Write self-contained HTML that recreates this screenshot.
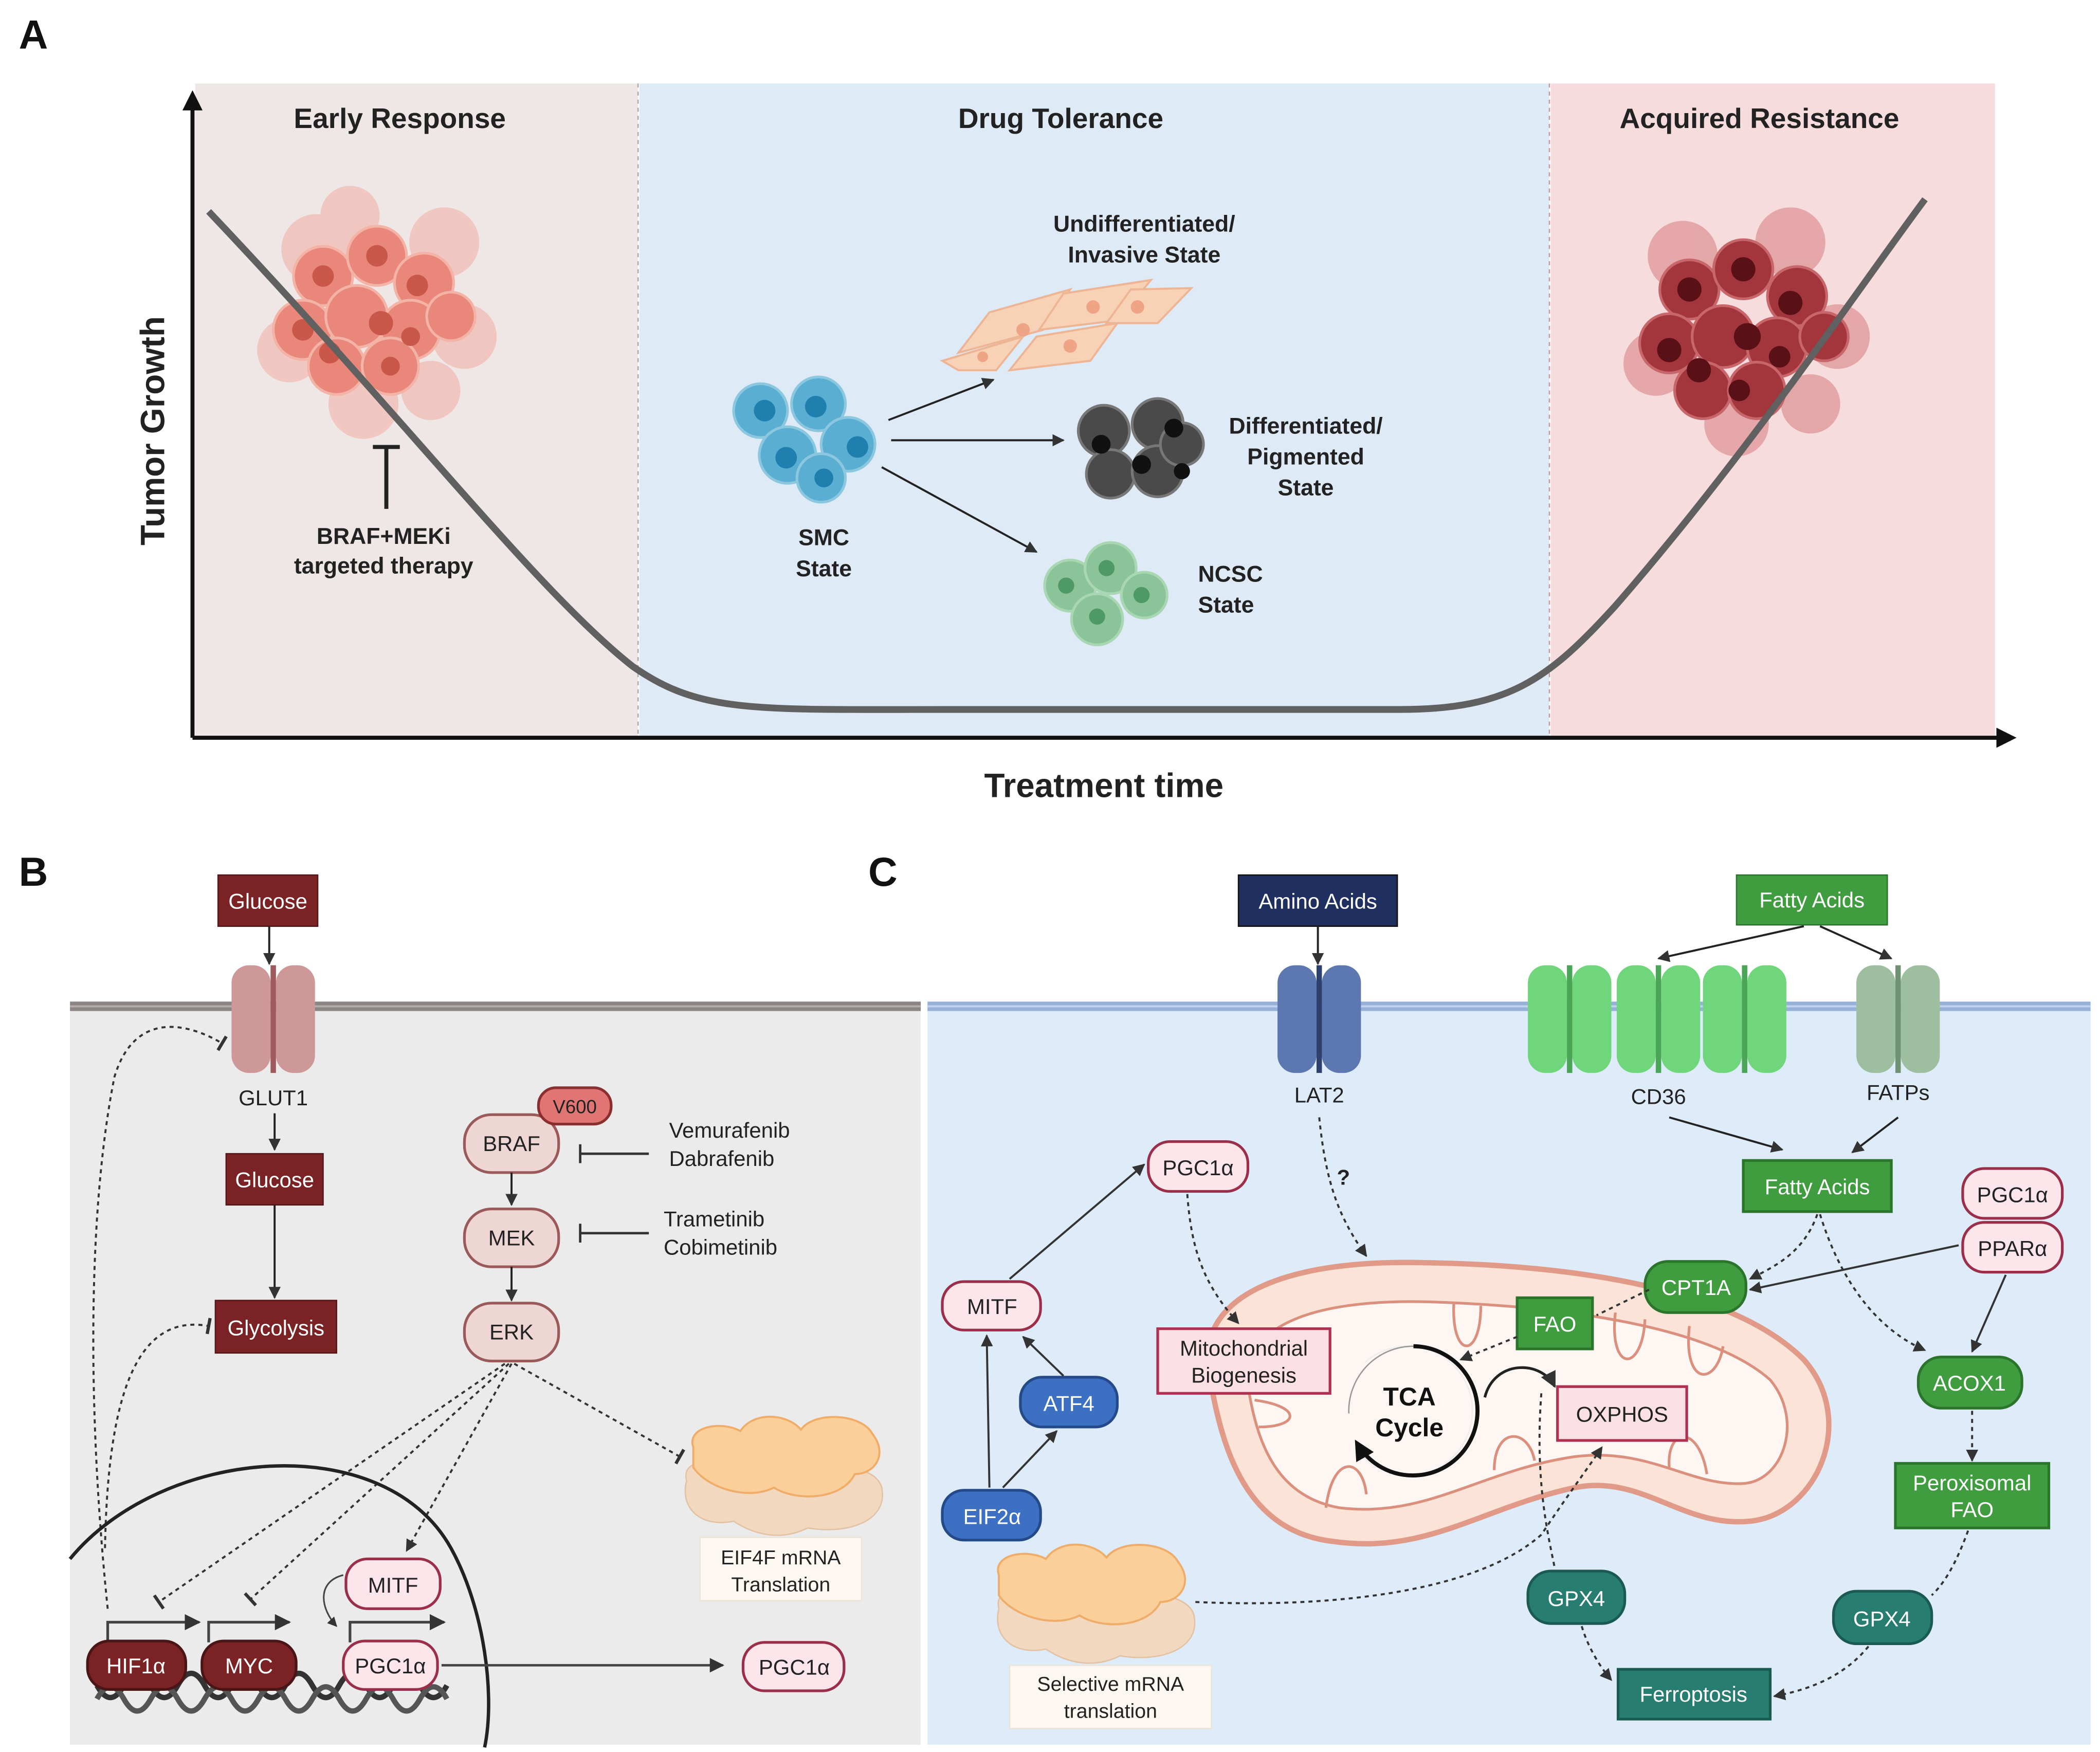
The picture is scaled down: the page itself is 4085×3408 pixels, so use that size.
<!DOCTYPE html>
<html><head><meta charset="utf-8"><style>
html,body{margin:0;padding:0;background:#fff}
svg{display:block}
text{font-family:"Liberation Sans",sans-serif}
</style></head><body>
<svg width="4085" height="3408" viewBox="0 0 1560 1301.4" xmlns="http://www.w3.org/2000/svg">
<defs>
<marker id="ah" viewBox="0 0 10 10" refX="9" refY="5" markerWidth="7" markerHeight="7" orient="auto-start-reverse"><path d="M0,0L10,5L0,10z" fill="#222"/></marker>
<marker id="ahb" viewBox="0 0 10 10" refX="9" refY="5" markerWidth="6" markerHeight="6" orient="auto"><path d="M0,0L10,5L0,10z" fill="#333"/></marker>
<marker id="bar" viewBox="0 0 10 10" refX="5" refY="5" markerWidth="8" markerHeight="8" orient="auto"><path d="M5,0L5,10" stroke="#333" stroke-width="2"/></marker>
<marker id="bigA" viewBox="0 0 10 10" refX="8" refY="5" markerWidth="5" markerHeight="5" orient="auto"><path d="M0,0L10,5L0,10z" fill="#111"/></marker>
<g id="chan"><rect x="-31" y="0" width="29" height="80" rx="13"/><rect x="2" y="0" width="29" height="80" rx="13"/></g>
<g id="cell"><circle r="22"/></g>
</defs>

<!-- PANEL A -->
<text x="14" y="36" font-size="30" font-weight="bold" fill="#111">A</text>
<rect x="145" y="62" width="329" height="485" fill="#efe7e5"/>
<rect x="475" y="62" width="676" height="485" fill="#deeaf6"/>
<rect x="1152" y="62" width="330" height="485" fill="#f6dcdc"/>
<line x1="474" y1="62" x2="474" y2="547" stroke="#aaa" stroke-dasharray="3,3"/>
<line x1="1151" y1="62" x2="1151" y2="547" stroke="#c99" stroke-dasharray="3,3"/>
<line x1="143" y1="548" x2="143" y2="70" stroke="#111" stroke-width="3" marker-end="url(#bigA)"/>
<line x1="143" y1="548" x2="1495" y2="548" stroke="#111" stroke-width="3" marker-end="url(#bigA)"/>
<text x="297" y="95" font-size="21" font-weight="bold" text-anchor="middle" fill="#222">Early Response</text>
<text x="788" y="95" font-size="21" font-weight="bold" text-anchor="middle" fill="#222">Drug Tolerance</text>
<text x="1307" y="95" font-size="21" font-weight="bold" text-anchor="middle" fill="#222">Acquired Resistance</text>
<text x="0" y="0" font-size="25" font-weight="bold" text-anchor="middle" fill="#222" transform="translate(122,320) rotate(-90)">Tumor Growth</text>
<text x="820" y="592" font-size="25" font-weight="bold" text-anchor="middle" fill="#222">Treatment time</text>

<!-- early tumor -->
<g fill="#f1b3a8" opacity="0.6">
<circle cx="235" cy="185" r="26"/><circle cx="330" cy="180" r="26"/><circle cx="345" cy="250" r="24"/><circle cx="215" cy="260" r="24"/><circle cx="270" cy="300" r="26"/><circle cx="260" cy="160" r="22"/><circle cx="320" cy="290" r="22"/>
</g>
<g fill="#e9887a" stroke="#f3b3a6" stroke-width="2">
<circle cx="240" cy="205" r="22"/><circle cx="280" cy="190" r="22"/><circle cx="315" cy="210" r="22"/><circle cx="225" cy="245" r="22"/><circle cx="265" cy="235" r="23"/><circle cx="305" cy="245" r="22"/><circle cx="335" cy="235" r="18"/><circle cx="250" cy="272" r="21"/><circle cx="290" cy="272" r="21"/>
</g>
<g fill="#c9584a"><circle cx="240" cy="205" r="8"/><circle cx="280" cy="190" r="8"/><circle cx="310" cy="212" r="8"/><circle cx="225" cy="245" r="8"/><circle cx="283" cy="240" r="9"/><circle cx="305" cy="250" r="7"/><circle cx="245" cy="262" r="8"/><circle cx="290" cy="272" r="7"/></g>
<line x1="287" y1="332" x2="287" y2="378" stroke="#222" stroke-width="3"/>
<line x1="277" y1="332" x2="297" y2="332" stroke="#222" stroke-width="3"/>
<text x="285" y="404" font-size="17" font-weight="bold" text-anchor="middle" fill="#222">BRAF+MEKi</text>
<text x="285" y="426" font-size="17" font-weight="bold" text-anchor="middle" fill="#222">targeted therapy</text>

<!-- resistant tumor -->
<g fill="#d77c7f" opacity="0.55">
<circle cx="1250" cy="190" r="26"/><circle cx="1330" cy="180" r="26"/><circle cx="1365" cy="250" r="24"/><circle cx="1230" cy="270" r="24"/><circle cx="1290" cy="315" r="24"/><circle cx="1345" cy="300" r="22"/>
</g>
<g fill="#a3363d" stroke="#c7666b" stroke-width="2">
<circle cx="1255" cy="215" r="22"/><circle cx="1295" cy="200" r="22"/><circle cx="1335" cy="220" r="22"/><circle cx="1240" cy="255" r="22"/><circle cx="1280" cy="250" r="23"/><circle cx="1320" cy="258" r="22"/><circle cx="1355" cy="250" r="18"/><circle cx="1265" cy="290" r="21"/><circle cx="1305" cy="290" r="21"/>
</g>
<g fill="#5a1017"><circle cx="1255" cy="215" r="9"/><circle cx="1295" cy="200" r="9"/><circle cx="1330" cy="225" r="9"/><circle cx="1240" cy="260" r="9"/><circle cx="1298" cy="250" r="10"/><circle cx="1322" cy="265" r="8"/><circle cx="1262" cy="275" r="9"/><circle cx="1292" cy="290" r="8"/></g>

<!-- curve -->
<path d="M155,157 C300,310 400,440 470,495 C520,530 560,527 700,527 L1040,527 C1120,527 1150,505 1200,450 C1300,335 1380,215 1430,148" fill="none" stroke="#606060" stroke-width="5"/>

<!-- SMC -->
<g fill="#5aaed1" stroke="#8cc7e0" stroke-width="2">
<circle cx="565" cy="305" r="20"/><circle cx="608" cy="300" r="20"/><circle cx="585" cy="338" r="21"/><circle cx="630" cy="330" r="20"/><circle cx="610" cy="355" r="18"/>
</g>
<g fill="#1f7fae"><circle cx="568" cy="305" r="8"/><circle cx="606" cy="302" r="8"/><circle cx="584" cy="340" r="8"/><circle cx="637" cy="332" r="8"/><circle cx="612" cy="355" r="7"/></g>
<text x="612" y="405" font-size="17" font-weight="bold" text-anchor="middle" fill="#222">SMC</text>
<text x="612" y="428" font-size="17" font-weight="bold" text-anchor="middle" fill="#222">State</text>
<line x1="660" y1="312" x2="738" y2="282" stroke="#222" stroke-width="1.5" marker-end="url(#ahb)"/>
<line x1="662" y1="327" x2="790" y2="327" stroke="#222" stroke-width="1.5" marker-end="url(#ahb)"/>
<line x1="655" y1="347" x2="770" y2="410" stroke="#222" stroke-width="1.5" marker-end="url(#ahb)"/>
<!-- invasive -->
<g fill="#f8d2b7" stroke="#edb594" stroke-width="1.5">
<path d="M735,232 L795,215 L775,245 L712,262z"/><path d="M790,218 L855,208 L830,238 L772,245z"/><path d="M840,215 L885,214 L860,240 L822,240z"/><path d="M770,250 L830,240 L810,268 L750,275z"/><path d="M700,268 L760,250 L740,275 L712,275z"/>
</g>
<g fill="#f0a486"><circle cx="760" cy="245" r="5"/><circle cx="812" cy="228" r="5"/><circle cx="845" cy="228" r="5"/><circle cx="795" cy="257" r="5"/><circle cx="730" cy="265" r="4"/></g>
<text x="850" y="172" font-size="17" font-weight="bold" text-anchor="middle" fill="#222">Undifferentiated/</text>
<text x="850" y="195" font-size="17" font-weight="bold" text-anchor="middle" fill="#222">Invasive State</text>
<!-- pigmented -->
<g fill="#4a4a4a" stroke="#777" stroke-width="2">
<circle cx="820" cy="320" r="19"/><circle cx="860" cy="315" r="19"/><circle cx="825" cy="352" r="18"/><circle cx="860" cy="350" r="19"/><circle cx="878" cy="330" r="16"/>
</g>
<g fill="#111"><circle cx="818" cy="330" r="7"/><circle cx="848" cy="345" r="7"/><circle cx="872" cy="318" r="7"/><circle cx="878" cy="350" r="6"/></g>
<text x="970" y="322" font-size="17" font-weight="bold" text-anchor="middle" fill="#222">Differentiated/</text>
<text x="970" y="345" font-size="17" font-weight="bold" text-anchor="middle" fill="#222">Pigmented</text>
<text x="970" y="368" font-size="17" font-weight="bold" text-anchor="middle" fill="#222">State</text>
<!-- NCSC -->
<g fill="#8cc49a" stroke="#a9d6b3" stroke-width="2">
<circle cx="795" cy="435" r="19"/><circle cx="825" cy="422" r="19"/><circle cx="850" cy="442" r="17"/><circle cx="815" cy="460" r="19"/>
</g>
<g fill="#4f9a64"><circle cx="792" cy="435" r="6"/><circle cx="822" cy="422" r="6"/><circle cx="848" cy="442" r="6"/><circle cx="815" cy="458" r="6"/></g>
<text x="890" y="432" font-size="17" font-weight="bold" fill="#222">NCSC</text>
<text x="890" y="455" font-size="17" font-weight="bold" fill="#222">State</text>

<!-- PANEL B -->
<text x="14" y="658" font-size="30" font-weight="bold" fill="#111">B</text>
<rect x="52" y="746" width="632" height="550" fill="#ecebeb"/>
<rect x="52" y="744" width="632" height="7" fill="#8b8584"/>
<line x1="52" y1="747.5" x2="684" y2="747.5" stroke="#b3adac" stroke-width="1.5"/>
<!-- PANEL C -->
<text x="645" y="658" font-size="30" font-weight="bold" fill="#111">C</text>
<rect x="689" y="746" width="864" height="550" fill="#deebf9"/>
<rect x="689" y="744" width="864" height="7" fill="#96b2d9"/>
<line x1="689" y1="747.5" x2="1553" y2="747.5" stroke="#c2d4ed" stroke-width="1.5"/>

<!-- B content -->
<rect x="162" y="650" width="74" height="38" fill="#7b2324" stroke="#55181a"/>
<text x="199" y="675" font-size="16" fill="#fff" text-anchor="middle">Glucose</text>
<line x1="200" y1="688" x2="200" y2="716" stroke="#222" stroke-width="1.5" marker-end="url(#ahb)"/>
<use href="#chan" x="203" y="717" fill="#cf9898"/>
<rect x="201" y="717" width="4" height="80" fill="#9e5a5a"/>
<text x="203" y="821" font-size="16" text-anchor="middle" fill="#222">GLUT1</text>
<line x1="204" y1="827" x2="204" y2="854" stroke="#222" stroke-width="1.5" marker-end="url(#ahb)"/>
<rect x="168" y="857" width="72" height="38" fill="#7b2324" stroke="#55181a"/>
<text x="204" y="882" font-size="16" fill="#fff" text-anchor="middle">Glucose</text>
<line x1="204" y1="895" x2="204" y2="964" stroke="#222" stroke-width="1.5" marker-end="url(#ahb)"/>
<rect x="160" y="966" width="90" height="39" fill="#7b2324" stroke="#55181a"/>
<text x="205" y="992" font-size="16" fill="#fff" text-anchor="middle">Glycolysis</text>

<rect x="345" y="828" width="70" height="43" rx="20" fill="#eed6d5" stroke="#9a5a5a" stroke-width="2"/>
<text x="380" y="855" font-size="16" text-anchor="middle" fill="#222">BRAF</text>
<rect x="400" y="808" width="54" height="27" rx="13" fill="#e07574" stroke="#8a2f2f" stroke-width="2"/>
<text x="427" y="827" font-size="14" text-anchor="middle" fill="#222">V600</text>
<line x1="380" y1="871" x2="380" y2="895" stroke="#222" stroke-width="1.5" marker-end="url(#ahb)"/>
<rect x="345" y="898" width="70" height="43" rx="20" fill="#eed6d5" stroke="#9a5a5a" stroke-width="2"/>
<text x="380" y="925" font-size="16" text-anchor="middle" fill="#222">MEK</text>
<line x1="380" y1="941" x2="380" y2="966" stroke="#222" stroke-width="1.5" marker-end="url(#ahb)"/>
<rect x="345" y="968" width="70" height="43" rx="20" fill="#eed6d5" stroke="#9a5a5a" stroke-width="2"/>
<text x="380" y="995" font-size="16" text-anchor="middle" fill="#222">ERK</text>
<line x1="482" y1="857" x2="431" y2="857" stroke="#333" stroke-width="1.8"/><line x1="431" y1="850" x2="431" y2="864" stroke="#333" stroke-width="1.8"/>
<text x="497" y="845" font-size="16" fill="#222">Vemurafenib</text>
<text x="497" y="866" font-size="16" fill="#222">Dabrafenib</text>
<line x1="482" y1="916" x2="431" y2="916" stroke="#333" stroke-width="1.8"/><line x1="431" y1="909" x2="431" y2="923" stroke="#333" stroke-width="1.8"/>
<text x="493" y="911" font-size="16" fill="#222">Trametinib</text>
<text x="493" y="932" font-size="16" fill="#222">Cobimetinib</text>

<g stroke="#333" stroke-width="1.5" stroke-dasharray="3,3" fill="none">
<line x1="375" y1="1013" x2="118" y2="1190" marker-end="url(#bar)"/>
<line x1="378" y1="1013" x2="186" y2="1188" marker-end="url(#bar)"/>
<line x1="380" y1="1013" x2="302" y2="1152" marker-end="url(#ahb)"/>
<line x1="382" y1="1013" x2="505" y2="1082" marker-end="url(#bar)"/>
<path d="M80,1195 C65,1050 65,900 85,800 C100,750 140,760 165,775" marker-end="url(#bar)"/>
<path d="M78,1150 C80,1040 100,975 155,985" marker-end="url(#bar)"/>
</g>

<!-- ribosome B -->
<g>
<path d="M510,1100 C505,1080 540,1085 560,1090 C600,1085 650,1085 655,1105 C660,1130 630,1140 600,1135 C580,1145 560,1140 545,1130 C520,1135 505,1120 510,1100z" fill="#f2d8bf" stroke="#e3c2a3"/>
<path d="M515,1075 C510,1060 535,1055 550,1063 C560,1048 585,1050 595,1062 C605,1048 640,1050 648,1065 C660,1080 650,1095 635,1095 C625,1115 590,1115 575,1105 C555,1115 525,1105 515,1090z" fill="#fbcf99" stroke="#f0ad6a" stroke-width="1.5"/>
</g>
<rect x="520" y="1142" width="120" height="47" fill="#fdf8f1" stroke="#ece4d6"/>
<text x="580" y="1162" font-size="15" text-anchor="middle" fill="#222">EIF4F mRNA</text>
<text x="580" y="1182" font-size="15" text-anchor="middle" fill="#222">Translation</text>

<!-- nucleus -->
<path d="M52,1158 C120,1075 285,1060 335,1150 C360,1195 368,1260 360,1298" fill="none" stroke="#222" stroke-width="2.5"/>
<!-- DNA -->
<path d="M72,1252 Q82,1270 92,1252 T112,1252 T132,1252 T152,1252 T172,1252 T192,1252 T212,1252 T232,1252 T252,1252 T272,1252 T292,1252 T312,1252 T332,1252" fill="none" stroke="#333" stroke-width="4"/>
<path d="M72,1262 Q82,1244 92,1262 T112,1262 T132,1262 T152,1262 T172,1262 T192,1262 T212,1262 T232,1262 T252,1262 T272,1262 T292,1262 T312,1262 T332,1262" fill="none" stroke="#555" stroke-width="4"/>
<g stroke="#444" stroke-width="2" fill="none">
<path d="M80,1220 L80,1205 L148,1205" marker-end="url(#ahb)"/>
<path d="M155,1220 L155,1205 L215,1205" marker-end="url(#ahb)"/>
<path d="M260,1220 L260,1205 L330,1205" marker-end="url(#ahb)"/>
<path d="M255,1170 C235,1175 238,1195 250,1208" stroke-width="1.2" marker-end="url(#ahb)"/>
</g>
<rect x="65" y="1219" width="73" height="36" rx="16" fill="#7b2324" stroke="#4a1517" stroke-width="2"/>
<text x="101" y="1243" font-size="16" fill="#fff" text-anchor="middle">HIF1α</text>
<rect x="150" y="1219" width="70" height="36" rx="16" fill="#7b2324" stroke="#4a1517" stroke-width="2"/>
<text x="185" y="1243" font-size="16" fill="#fff" text-anchor="middle">MYC</text>
<rect x="255" y="1219" width="70" height="36" rx="16" fill="#fce6ec" stroke="#9b2f4a" stroke-width="2"/>
<text x="290" y="1243" font-size="16" fill="#222" text-anchor="middle">PGC1α</text>
<rect x="257" y="1158" width="70" height="37" rx="16" fill="#fce6ec" stroke="#9b2f4a" stroke-width="2"/>
<text x="292" y="1183" font-size="16" fill="#222" text-anchor="middle">MITF</text>
<line x1="328" y1="1237" x2="537" y2="1237" stroke="#444" stroke-width="1.8" marker-end="url(#ahb)"/>
<rect x="552" y="1220" width="75" height="36" rx="16" fill="#fce6ec" stroke="#9b2f4a" stroke-width="2"/>
<text x="590" y="1244" font-size="16" fill="#222" text-anchor="middle">PGC1α</text>

<!-- C content -->
<rect x="920" y="650" width="118" height="38" fill="#1f2f5f" stroke="#111"/>
<text x="979" y="675" font-size="16" fill="#fff" text-anchor="middle">Amino Acids</text>
<line x1="979" y1="688" x2="979" y2="716" stroke="#222" stroke-width="1.5" marker-end="url(#ahb)"/>
<use href="#chan" x="980" y="717" fill="#5d78b1"/>
<rect x="978" y="717" width="4" height="80" fill="#2d4070"/>
<text x="980" y="819" font-size="16" text-anchor="middle" fill="#222">LAT2</text>

<rect x="1290" y="650" width="112" height="37" fill="#3f9d3f" stroke="#2b742b"/>
<text x="1346" y="674" font-size="16" fill="#fff" text-anchor="middle">Fatty Acids</text>
<line x1="1340" y1="688" x2="1232" y2="712" stroke="#222" stroke-width="1.5" marker-end="url(#ahb)"/>
<line x1="1352" y1="688" x2="1405" y2="712" stroke="#222" stroke-width="1.5" marker-end="url(#ahb)"/>
<g fill="#6fd67b">
<use href="#chan" x="1166" y="717"/><use href="#chan" x="1232" y="717"/><use href="#chan" x="1296" y="717"/>
</g>
<g fill="#4aa556"><rect x="1164" y="717" width="4" height="80"/><rect x="1230" y="717" width="4" height="80"/><rect x="1294" y="717" width="4" height="80"/></g>
<use href="#chan" x="1410" y="717" fill="#9dbf9f"/>
<rect x="1408" y="717" width="4" height="80" fill="#6f9272"/>
<text x="1232" y="820" font-size="16" text-anchor="middle" fill="#222">CD36</text>
<text x="1410" y="817" font-size="16" text-anchor="middle" fill="#222">FATPs</text>
<line x1="1240" y1="830" x2="1324" y2="854" stroke="#222" stroke-width="1.5" marker-end="url(#ahb)"/>
<line x1="1410" y1="830" x2="1376" y2="856" stroke="#222" stroke-width="1.5" marker-end="url(#ahb)"/>
<rect x="1295" y="862" width="110" height="38" fill="#3f9d3f" stroke="#2b742b" stroke-width="2"/>
<text x="1350" y="887" font-size="16" fill="#fff" text-anchor="middle">Fatty Acids</text>
<rect x="1458" y="868" width="74" height="37" rx="16" fill="#fce6ec" stroke="#9b2f4a" stroke-width="2"/>
<text x="1495" y="893" font-size="16" fill="#222" text-anchor="middle">PGC1α</text>
<rect x="1458" y="908" width="74" height="37" rx="16" fill="#fce6ec" stroke="#9b2f4a" stroke-width="2"/>
<text x="1495" y="933" font-size="16" fill="#222" text-anchor="middle">PPARα</text>

<!-- mitochondrion -->
<path d="M900,1030 C880,960 960,935 1060,938 C1180,940 1290,960 1340,1010 C1380,1055 1350,1125 1300,1130 C1250,1135 1220,1095 1170,1105 C1100,1120 1060,1155 990,1145 C930,1138 910,1085 900,1030z" fill="#fbe3d8" stroke="#e09a87" stroke-width="4"/>
<path d="M928,1035 C918,985 975,965 1060,967 C1160,970 1270,985 1315,1025 C1340,1055 1325,1100 1295,1102 C1255,1104 1225,1075 1170,1082 C1100,1092 1060,1128 995,1120 C950,1112 935,1075 928,1035z" fill="#fef6f3" stroke="#db8f7d" stroke-width="2"/>
<g stroke="#db8f7d" stroke-width="2" fill="none">
<path d="M1080,968 C1078,1010 1100,1010 1100,970"/><path d="M1200,975 C1195,1020 1220,1020 1222,980"/><path d="M1255,985 C1250,1030 1275,1030 1280,1000"/>
<path d="M985,1120 C990,1080 1012,1082 1015,1110"/><path d="M1110,1092 C1110,1060 1135,1060 1140,1085"/><path d="M1240,1090 C1238,1060 1262,1058 1268,1095"/><path d="M935,1060 C965,1060 968,1045 932,1040"/>
</g>
<rect x="860" y="987" width="128" height="48" fill="#fbe0e6" stroke="#b03050" stroke-width="2"/>
<text x="924" y="1007" font-size="16" text-anchor="middle" fill="#222">Mitochondrial</text>
<text x="924" y="1027" font-size="16" text-anchor="middle" fill="#222">Biogenesis</text>
<path d="M1014,1012 A48,48 0 1 1 1010,1080" fill="none" stroke="#eee" stroke-width="1"/>
<path d="M1050,1000 A48,48 0 1 1 1008,1072" fill="none" stroke="#111" stroke-width="3" marker-end="url(#bigA)"/>
<path d="M1050,1000 A48,48 0 0 0 1002,1050" fill="none" stroke="#999" stroke-width="1"/>
<text x="1047" y="1044" font-size="19" font-weight="bold" text-anchor="middle" fill="#111">TCA</text>
<text x="1047" y="1067" font-size="19" font-weight="bold" text-anchor="middle" fill="#111">Cycle</text>
<path d="M1103,1038 C1110,1010 1145,1010 1155,1030" fill="none" stroke="#222" stroke-width="2" marker-end="url(#ahb)"/>
<rect x="1157" y="1030" width="96" height="40" fill="#fbe0e6" stroke="#b03050" stroke-width="2"/>
<text x="1205" y="1056" font-size="16" text-anchor="middle" fill="#222">OXPHOS</text>
<rect x="1127" y="964" width="56" height="38" fill="#3f9d3f" stroke="#2b742b" stroke-width="2"/>
<text x="1155" y="989" font-size="16" fill="#fff" text-anchor="middle">FAO</text>
<rect x="1222" y="937" width="75" height="38" rx="17" fill="#3f9d3f" stroke="#2b742b" stroke-width="2"/>
<text x="1260" y="962" font-size="16" fill="#fff" text-anchor="middle">CPT1A</text>
<rect x="1425" y="1008" width="77" height="38" rx="17" fill="#3f9d3f" stroke="#2b742b" stroke-width="2"/>
<text x="1463" y="1033" font-size="16" fill="#fff" text-anchor="middle">ACOX1</text>
<rect x="1408" y="1087" width="114" height="48" fill="#3f9d3f" stroke="#2b742b" stroke-width="2"/>
<text x="1465" y="1107" font-size="16" fill="#fff" text-anchor="middle">Peroxisomal</text>
<text x="1465" y="1127" font-size="16" fill="#fff" text-anchor="middle">FAO</text>
<rect x="1135" y="1167" width="72" height="39" rx="17" fill="#277d70" stroke="#1a5a50" stroke-width="2"/>
<text x="1171" y="1193" font-size="16" fill="#fff" text-anchor="middle">GPX4</text>
<rect x="1362" y="1182" width="73" height="39" rx="17" fill="#277d70" stroke="#1a5a50" stroke-width="2"/>
<text x="1398" y="1208" font-size="16" fill="#fff" text-anchor="middle">GPX4</text>
<rect x="1202" y="1240" width="113" height="37" fill="#277d70" stroke="#1a5a50" stroke-width="2"/>
<text x="1258" y="1264" font-size="16" fill="#fff" text-anchor="middle">Ferroptosis</text>

<!-- left side C -->
<rect x="853" y="848" width="74" height="37" rx="16" fill="#fce6ec" stroke="#9b2f4a" stroke-width="2"/>
<text x="890" y="873" font-size="16" fill="#222" text-anchor="middle">PGC1α</text>
<rect x="700" y="952" width="73" height="36" rx="16" fill="#fce6ec" stroke="#9b2f4a" stroke-width="2"/>
<text x="737" y="976" font-size="16" fill="#222" text-anchor="middle">MITF</text>
<rect x="758" y="1023" width="72" height="37" rx="16" fill="#3d6fc2" stroke="#244a8a" stroke-width="2"/>
<text x="794" y="1048" font-size="16" fill="#fff" text-anchor="middle">ATF4</text>
<rect x="700" y="1107" width="73" height="37" rx="16" fill="#3d6fc2" stroke="#244a8a" stroke-width="2"/>
<text x="737" y="1132" font-size="16" fill="#fff" text-anchor="middle">EIF2α</text>
<g stroke="#333" stroke-width="1.5" fill="none">
<line x1="750" y1="950" x2="850" y2="865" marker-end="url(#ahb)"/>
<line x1="735" y1="1105" x2="733" y2="992" marker-end="url(#ahb)"/>
<line x1="790" y1="1022" x2="760" y2="993" marker-end="url(#ahb)"/>
<line x1="745" y1="1105" x2="785" y2="1063" marker-end="url(#ahb)"/>
<line x1="1455" y1="925" x2="1300" y2="958" marker-end="url(#ahb)"/>
<line x1="1490" y1="947" x2="1465" y2="1004" marker-end="url(#ahb)"/>
</g>
<g stroke="#333" stroke-width="1.5" fill="none" stroke-dasharray="3,3">
<path d="M882,887 C885,930 895,955 920,983" marker-end="url(#ahb)"/>
<path d="M980,830 C985,880 995,905 1015,933" marker-end="url(#ahb)"/>
<path d="M1350,902 C1340,930 1320,940 1300,950" marker-end="url(#ahb)"/>
<path d="M1352,902 C1370,960 1400,990 1430,1003" marker-end="url(#ahb)"/>
<line x1="1225" y1="958" x2="1186" y2="977" />
<line x1="1127" y1="993" x2="1085" y2="1010" marker-end="url(#ahb)"/>
<line x1="1465" y1="1048" x2="1465" y2="1085" marker-end="url(#ahb)"/>
<path d="M1462,1137 C1450,1170 1440,1180 1435,1185"/>
<path d="M1145,1035 C1140,1100 1150,1140 1155,1165"/>
<path d="M1175,1208 C1180,1225 1190,1240 1197,1248" marker-end="url(#ahb)"/>
<path d="M1388,1223 C1370,1245 1345,1255 1318,1260" marker-end="url(#ahb)"/>
<path d="M888,1190 C1000,1195 1100,1180 1145,1140 C1165,1110 1180,1090 1190,1075" marker-end="url(#ahb)"/>
</g>
<text x="998" y="880" font-size="16" font-weight="bold" text-anchor="middle" fill="#222">?</text>

<!-- ribosome C -->
<path d="M742,1195 C737,1175 772,1180 792,1185 C832,1180 882,1180 887,1200 C892,1225 862,1235 832,1230 C812,1240 792,1235 777,1225 C752,1230 737,1215 742,1195z" fill="#f2d8bf" stroke="#e3c2a3"/>
<path d="M742,1170 C737,1155 762,1150 777,1158 C787,1143 812,1145 822,1157 C832,1143 867,1145 875,1160 C887,1175 877,1190 862,1190 C852,1210 817,1210 802,1200 C782,1210 752,1200 742,1185z" fill="#fbcf99" stroke="#f0ad6a" stroke-width="1.5"/>
<rect x="750" y="1237" width="150" height="47" fill="#fdf8f1" stroke="#ece4d6"/>
<text x="825" y="1256" font-size="15" text-anchor="middle" fill="#222">Selective mRNA</text>
<text x="825" y="1276" font-size="15" text-anchor="middle" fill="#222">translation</text>
</svg>
</body></html>
